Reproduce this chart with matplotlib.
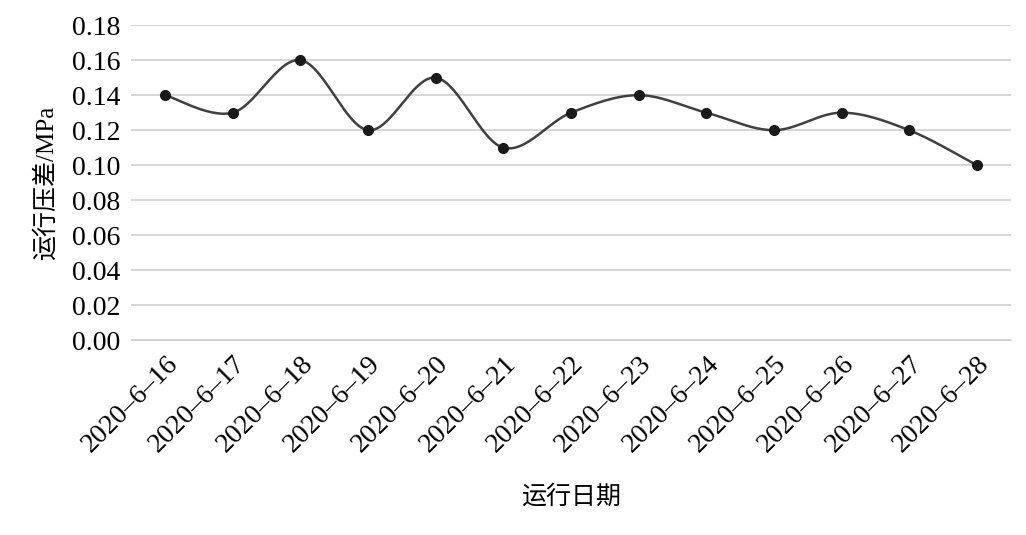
import matplotlib
matplotlib.use("Agg")
import matplotlib.pyplot as plt
import numpy as np

dates = ["2020–6–%d" % d for d in range(16, 29)]
values = [0.14, 0.13, 0.16, 0.12, 0.15, 0.11, 0.13, 0.14, 0.13, 0.12, 0.13, 0.12, 0.10]
yticks = [0.00, 0.02, 0.04, 0.06, 0.08, 0.10, 0.12, 0.14, 0.16, 0.18]

plt.rcParams['font.family'] = ['Liberation Serif', 'Noto Sans CJK SC', 'DejaVu Sans']

fig = plt.figure(figsize=(10.26, 5.35), dpi=100)
ax = fig.add_axes([0.128, 0.364, 0.857, 0.589])

x = np.arange(len(values))
y = np.array(values)

def catmull(xp, yp, n=30):
    P = np.column_stack([xp, yp])
    P = np.vstack([P[0], P, P[-1]])
    out = []
    for i in range(1, len(P) - 2):
        p0, p1, p2, p3 = P[i-1], P[i], P[i+1], P[i+2]
        t = np.linspace(0, 1, n)[:, None]
        c = 0.5 * ((2*p1) + (-p0 + p2)*t + (2*p0 - 5*p1 + 4*p2 - p3)*t**2 + (-p0 + 3*p1 - 3*p2 + p3)*t**3)
        out.append(c)
    c = np.vstack(out)
    return c[:, 0], c[:, 1]

sx, sy = catmull(x, y)
ax.plot(sx, sy, color='#404040', lw=1.8, zorder=3)
ax.plot(x, y, 'o', color='#1a1a1a', ms=7, zorder=4)

ax.set_xlim(-0.5, len(values) - 0.5)
ax.set_ylim(0, 0.18)
ax.set_yticks(yticks)
ax.set_yticklabels(["%.2f" % v for v in yticks], fontsize=20)
ax.set_xticks(x)
ax.set_xticklabels(dates, rotation=45, ha='right', rotation_mode='anchor', fontsize=20)
ax.grid(axis='y', color='#d0d0d0', lw=1.2)
ax.set_axisbelow(True)
for s in ['top', 'right', 'left']:
    ax.spines[s].set_visible(False)
ax.spines['bottom'].set_color('#d0d0d0')
ax.tick_params(axis='both', length=0, pad=8)
ax.set_ylabel("运行压差/MPa", fontsize=18, labelpad=10)
ax.set_xlabel("运行日期", fontsize=18, labelpad=20)

fig.savefig("out.png", dpi=100)
